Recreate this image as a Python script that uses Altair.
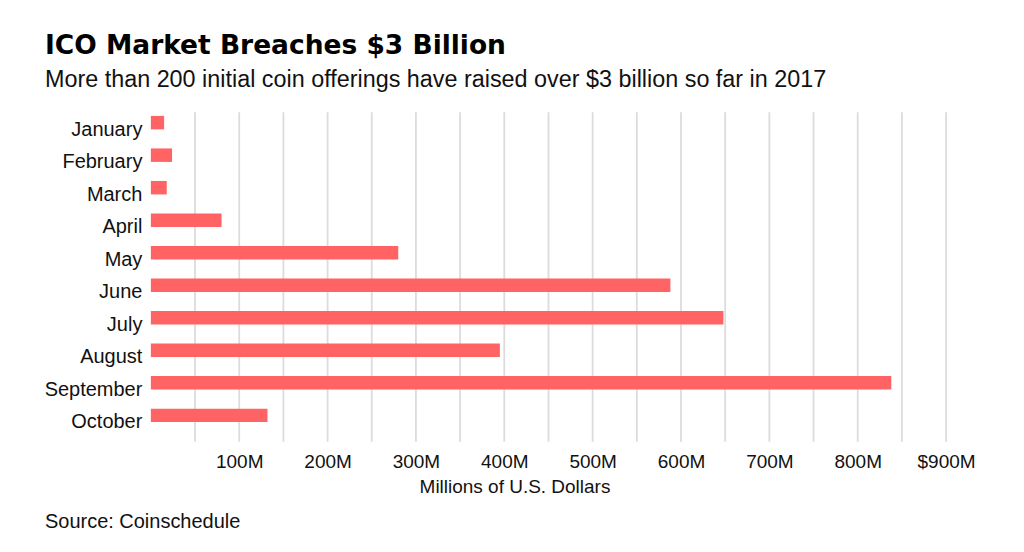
import altair as alt
import pandas as pd

months = ["January", "February", "March", "April", "May", "June",
          "July", "August", "September", "October"]
raised = [15, 24, 18, 80, 280, 588, 648, 395, 838, 132]
tick_values = [50, 100, 150, 200, 250, 300, 350, 400, 450, 500,
               550, 600, 650, 700, 750, 800, 850, 900]
source_note = ["Source: Coinschedule"]

FONT = "Liberation Sans"
W, H = 796, 330

df = pd.DataFrame({"month": months, "raised": raised})
grid_df = pd.DataFrame({"v": tick_values})

x_scale = alt.Scale(domain=[0, 900], nice=False)

grid = alt.Chart(grid_df).mark_rule(color="#dcdcdc", strokeWidth=1.8).encode(
    x=alt.X("v:Q", scale=x_scale),
    y=alt.value(0), y2=alt.value(H),
)

bars = alt.Chart(df).mark_bar(color="#ff6363").encode(
    y=alt.Y("month:N", sort=months,
            scale=alt.Scale(domain=months, range=[0, 314],
                            paddingInner=0.586, paddingOuter=0.115),
            axis=alt.Axis(title=None, domain=False, ticks=False, grid=False,
                          labelFontSize=20, labelFont=FONT, labelColor="#111",
                          labelPadding=9, labelOffset=7)),
    x=alt.X("raised:Q", scale=x_scale,
            axis=alt.Axis(values=tick_values, domain=False, ticks=False,
                          grid=False, labelFlush=False,
                          labelExpr="datum.value % 100 == 0 ? (datum.value == 900 ? '$900M' : datum.value + 'M') : ''",
                          labelFontSize=19, labelFont=FONT, labelColor="#111",
                          labelPadding=11,
                          title="Millions of U.S. Dollars", titleFont=FONT,
                          titleFontSize=19, titleFontWeight="normal",
                          titleColor="#111", titlePadding=6, titleX=364)),
)

src = alt.Chart(pd.DataFrame({"t": source_note})).mark_text(
    align="left", baseline="middle", font=FONT, fontSize=20, color="#111"
).encode(text="t:N", x=alt.value(-106), y=alt.value(410))

chart = alt.layer(grid, bars, src).properties(
    width=W, height=H,
    title=alt.TitleParams(
        text="ICO Market Breaches $3 Billion",
        subtitle="More than 200 initial coin offerings have raised over $3 billion so far in 2017",
        anchor="start", frame="group", dx=-106, offset=20,
        font="DejaVu Sans", fontSize=26.5, fontWeight="bold", color="#000",
        subtitleFont=FONT, subtitleFontSize=23.4, subtitleColor="#111",
        subtitlePadding=9),
    autosize=alt.AutoSizeParams(type="none"),
    padding={"left": 143, "top": 104, "right": 70, "bottom": 100},
).configure_view(stroke=None)

chart.save("out.html", embed_options={"renderer": "svg", "actions": False})
